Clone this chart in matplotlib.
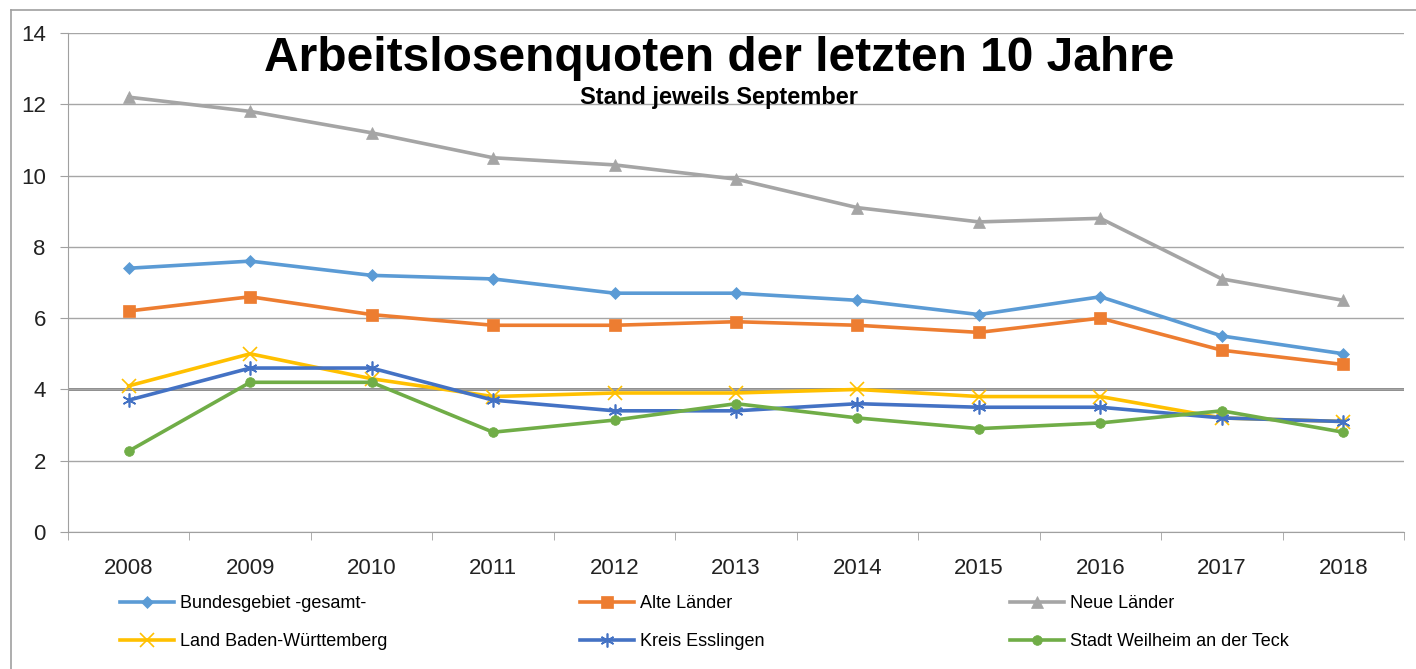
import numpy as np
import matplotlib.pyplot as plt
from matplotlib.lines import Line2D

years = ["2008", "2009", "2010", "2011", "2012", "2013", "2014", "2015", "2016", "2017", "2018"]

bund = [7.4, 7.6, 7.2, 7.1, 6.7, 6.7, 6.5, 6.1, 6.6, 5.5, 5.0]
alte = [6.2, 6.6, 6.1, 5.8, 5.8, 5.9, 5.8, 5.6, 6.0, 5.1, 4.7]
neue = [12.2, 11.8, 11.2, 10.5, 10.3, 9.9, 9.1, 8.7, 8.8, 7.1, 6.5]
bw = [4.1, 5.0, 4.3, 3.8, 3.9, 3.9, 4.0, 3.8, 3.8, 3.2, 3.1]
kreis = [3.7, 4.6, 4.6, 3.7, 3.4, 3.4, 3.6, 3.5, 3.5, 3.2, 3.1]
weilheim = [2.27, 4.2, 4.2, 2.8, 3.14, 3.6, 3.2, 2.9, 3.06, 3.4, 2.8]

labels = ["Bundesgebiet -gesamt-", "Alte Länder", "Neue Länder",
          "Land Baden-Württemberg", "Kreis Esslingen", "Stadt Weilheim an der Teck"]
colors = ["#5B9BD5", "#ED7D31", "#A5A5A5", "#FFC000", "#4472C4", "#70AD47"]
markers = ["D", "s", "^", "x", (6, 2, 0), "o"]
msizes = [6, 8, 8, 10, 10, 7]
series = [bund, alte, neue, bw, kreis, weilheim]

plt.rcParams['font.family'] = ['Liberation Sans', 'DejaVu Sans']

fig = plt.figure(figsize=(14.16, 6.69), dpi=100)
ax = fig.add_axes([68 / 1416, 1 - 532 / 669, (1404 - 68) / 1416, (532 - 33) / 669])

x = np.arange(len(years))
handles = []
for vals, lab, c, m, ms in zip(series, labels, colors, markers, msizes):
    h, = ax.plot(x, vals, color=c, lw=2.6, marker=m, markersize=ms,
                 markeredgewidth=1.2 if m in ("x", (6, 2, 0)) else 0.5,
                 markeredgecolor=c, label=lab, zorder=3)
    handles.append(h)

ax.set_xlim(-0.5, len(years) - 0.5)
ax.set_ylim(0, 14)
ax.set_yticks(np.arange(0, 15, 2))
ax.set_xticks(x)
ax.set_xticklabels(years)
ax.set_xticks(np.arange(-0.5, len(years), 1), minor=True)
ax.tick_params(axis='x', which='major', length=0, pad=19, labelsize=16)
ax.tick_params(axis='x', which='minor', length=6, color='#A0A0A0', direction='out')
ax.tick_params(axis='y', length=6, color='#A0A0A0', labelsize=16, pad=10)
ax.grid(axis='y', color='#A6A6A6', lw=1.0, zorder=0)
for lbl in ax.get_yticklabels() + ax.get_xticklabels():
    lbl.set_color('#222222')
for s in ["top", "right"]:
    ax.spines[s].set_visible(False)
ax.spines["left"].set_color('#A0A0A0')
ax.spines["bottom"].set_color('#A0A0A0')
ax.axhline(4, color='#808080', lw=2.0, zorder=1)

fig.text(0.508, 0.912, "Arbeitslosenquoten der letzten 10 Jahre", ha='center', va='center',
         fontsize=34.5, fontweight='bold')
fig.text(0.508, 0.855, "Stand jeweils September", ha='center', va='center',
         fontsize=17, fontweight='bold')

# legend in three column groups
xs = [113 / 1416, 573 / 1416, 1003 / 1416]
for i, xpos in enumerate(xs):
    hs = [handles[i], handles[i + 3]]
    leg = fig.legend(hs, [h.get_label() for h in hs], loc='upper left',
                     bbox_to_anchor=(xpos, 1 - 588 / 669), frameon=False,
                     fontsize=13, handlelength=3.0, handletextpad=0.3,
                     labelspacing=1.15, borderaxespad=0)

# outer frame (top and left)
fig.add_artist(Line2D([11 / 1416, 11 / 1416], [0, 1 - 10 / 669], color='#A0A0A0', lw=1.2))
fig.add_artist(Line2D([11 / 1416, 1], [1 - 10 / 669, 1 - 10 / 669], color='#A0A0A0', lw=1.2))

fig.savefig("out.png", dpi=100)
